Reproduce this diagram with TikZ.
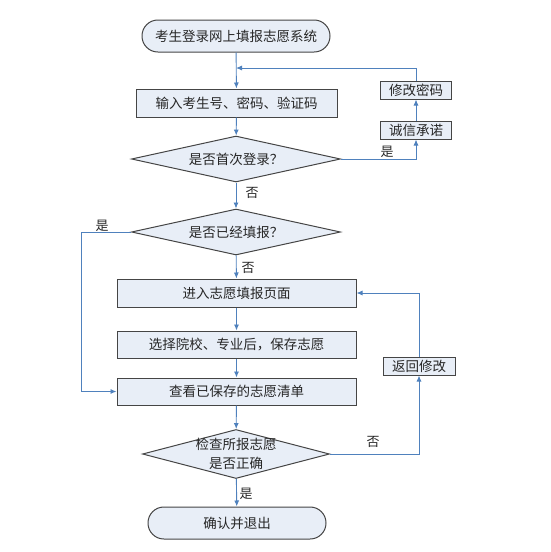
\documentclass[tikz,border=0pt]{standalone}
\usepackage{fontspec}
\setmainfont{Noto Sans CJK SC}
\usetikzlibrary{shapes.geometric,arrows.meta}
\definecolor{boxfill}{HTML}{E8EEF7}
\definecolor{flowblue}{HTML}{4F81BD}
\definecolor{boxedge}{HTML}{454545}
\tikzset{
  box/.style={rectangle,draw=boxedge,line width=1pt,fill=boxfill,inner sep=0pt,
    text=black!85,font=\fontsize{13.5}{18}\selectfont},
  term/.style={box,rounded corners=15.9pt,minimum height=32pt},
  proc/.style={box,minimum height=28pt},
  small/.style={box,minimum width=71pt,minimum height=18pt},
  decide/.style={box,diamond,aspect=4.5,minimum width=209pt,minimum height=46pt},
  line/.style={draw=flowblue,line width=0.9pt,-{Latex[length=6pt,width=5pt]}},
  tag/.style={text=black!85,font=\fontsize{13}{15}\selectfont,inner sep=0pt}
}
\begin{document}
\begin{tikzpicture}[x=1pt,y=-1pt]
\useasboundingbox (0,0) rectangle (550,552);
% main column
\node[term,minimum width=188pt] (start) at (236,36) {考生登录网上填报志愿系统};
\node[proc,minimum width=201pt] (input) at (236.5,103) {输入考生号、密码、验证码};
\node[decide] (first) at (236,159) {是否首次登录？};
\node[decide] (filled) at (236,232) {是否已经填报？};
\node[proc,minimum width=239pt] (enter) at (236.5,293) {进入志愿填报页面};
\node[proc,minimum width=239pt,minimum height=27pt] (choose) at (236.5,344.5) {选择院校、专业后，保存志愿};
\node[proc,minimum width=239pt,minimum height=27pt] (view) at (236.5,391.5) {查看已保存的志愿清单};
\node[box,diamond,minimum width=187pt,minimum height=49pt,
  label={[align=center,tag,font=\fontsize{13.5}{19}\selectfont]center:检查所报志愿\\是否正确}] (check) at (236,454) {};
\node[term,minimum width=178pt] (finish) at (237,523) {确认并退出};
% side boxes
\node[small] (promise) at (416,130) {诚信承诺};
\node[small] (newpwd) at (416,90) {修改密码};
\node[small,minimum width=72pt] (back) at (419,366) {返回修改};
% joints
\coordinate (join) at (236,68);
\coordinate (lbend) at (81,232);
% connectors
\draw[line] (start) -- (input);
\draw[line] (input) -- (first);
\draw[line] (first.east) -| (promise.south);
\draw[line] (promise) -- (newpwd);
\draw[line] (newpwd.north) |- (join);
\draw[line] (first) -- (filled);
\draw[line] (filled) -- (enter);
\draw[line] (filled.west) -- (lbend) |- (view.west);
\draw[line] (enter) -- (choose);
\draw[line] (choose) -- (view);
\draw[line] (view) -- (check);
\draw[line] (check) -- (finish);
\draw[line] (check.east) -| (back.south);
\draw[line] (back.north) |- (enter.east);
% labels
\node[tag] (yes1) at (387,152) {是};
\node[tag] (no1) at (252,193) {否};
\node[tag] (yes2) at (102,226) {是};
\node[tag] (no2) at (248,268) {否};
\node[tag] (no3) at (373,442) {否};
\node[tag] (yes3) at (246,494) {是};
\end{tikzpicture}
\end{document}
